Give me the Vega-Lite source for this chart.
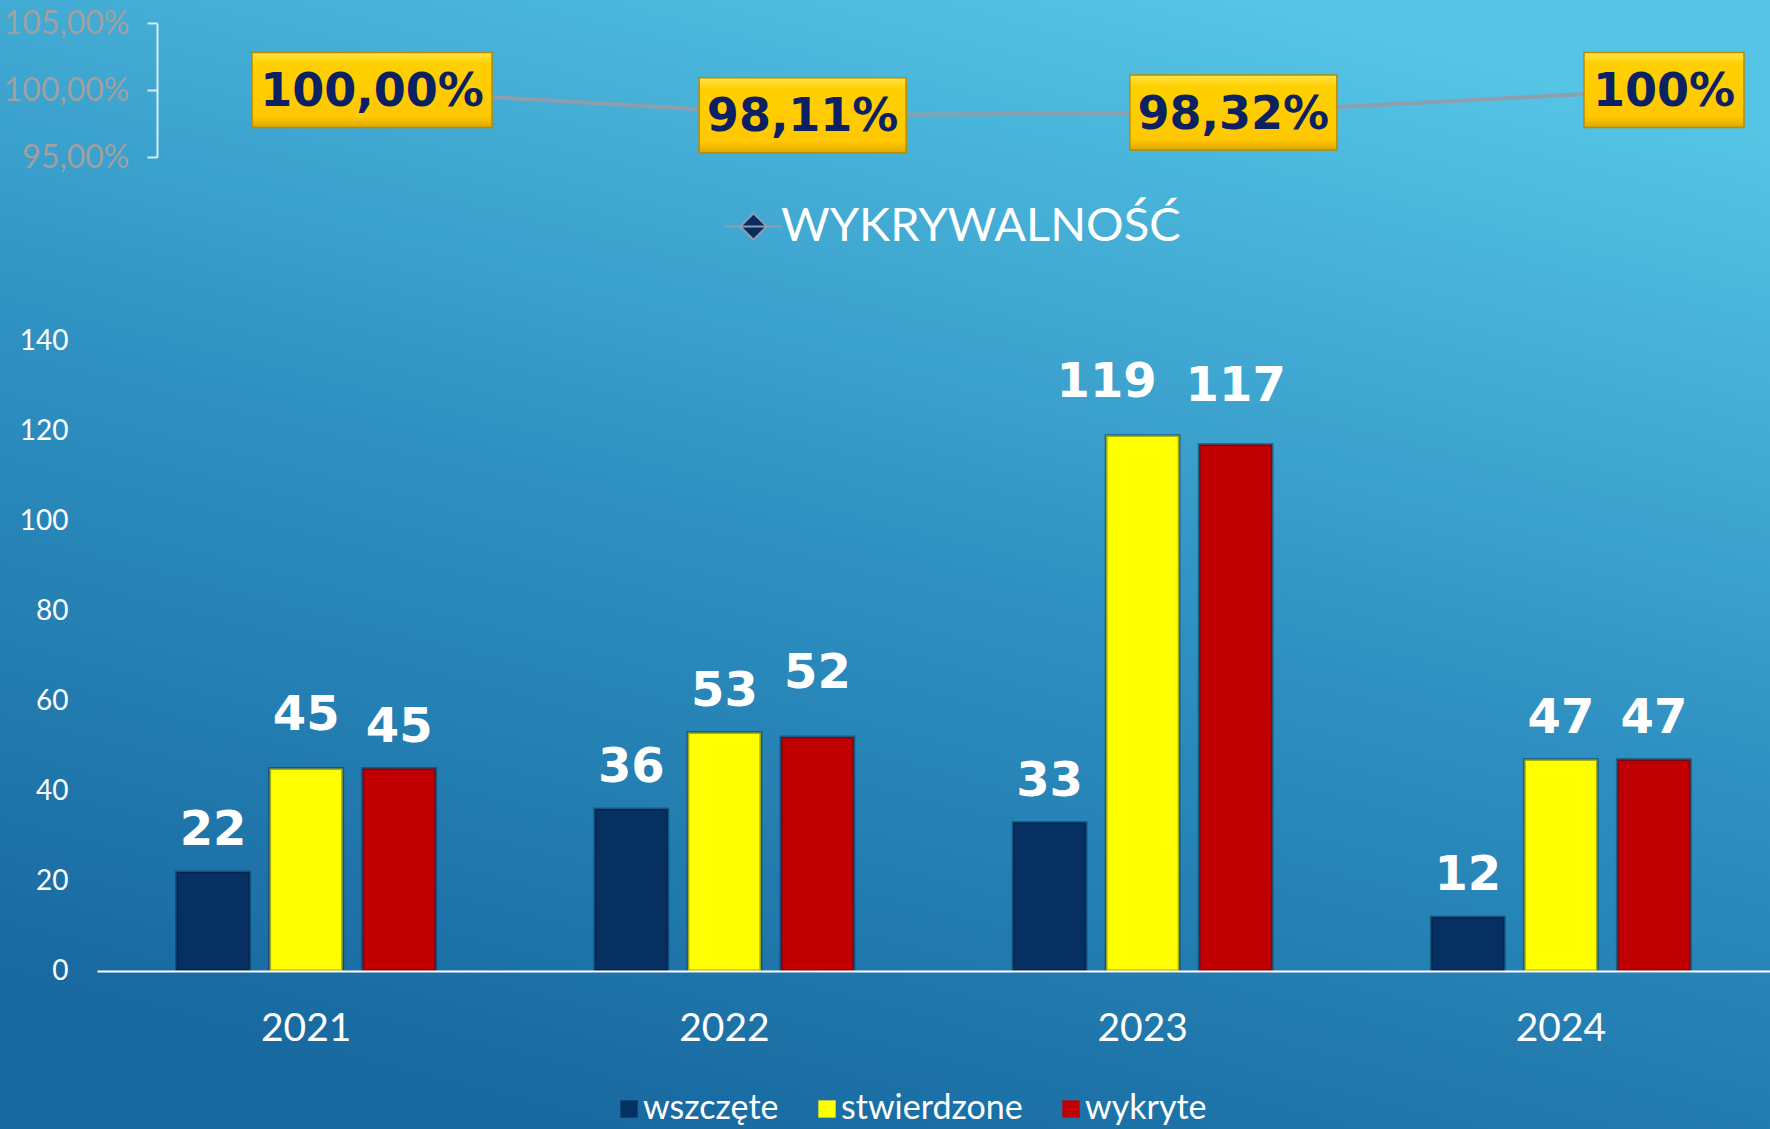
{
  "$schema": "https://vega.github.io/schema/vega-lite/v6.json",
  "width": 1770,
  "height": 1129,
  "autosize": {"type": "none"},
  "padding": 0,
  "background": "#2e90c1",
  "config": {"view": {"stroke": null}, "font": "Lato", "axis": {"zindex": 2}},
  "datasets": {
    "bars": [
      {"rok": "2021", "seria": "wszczęte", "wartosc": 22},
      {"rok": "2021", "seria": "stwierdzone", "wartosc": 45},
      {"rok": "2021", "seria": "wykryte", "wartosc": 45},
      {"rok": "2022", "seria": "wszczęte", "wartosc": 36},
      {"rok": "2022", "seria": "stwierdzone", "wartosc": 53},
      {"rok": "2022", "seria": "wykryte", "wartosc": 52},
      {"rok": "2023", "seria": "wszczęte", "wartosc": 33},
      {"rok": "2023", "seria": "stwierdzone", "wartosc": 119},
      {"rok": "2023", "seria": "wykryte", "wartosc": 117},
      {"rok": "2024", "seria": "wszczęte", "wartosc": 12},
      {"rok": "2024", "seria": "stwierdzone", "wartosc": 47},
      {"rok": "2024", "seria": "wykryte", "wartosc": 47}
    ],
    "wyk": [
      {"rok": "2021", "wartosc": 100, "etykieta": "100,00%"},
      {"rok": "2022", "wartosc": 98.11, "etykieta": "98,11%"},
      {"rok": "2023", "wartosc": 98.32, "etykieta": "98,32%"},
      {"rok": "2024", "wartosc": 100, "etykieta": "100%"}
    ]
  },
  "layer": [
    {
      "data": {"values": [{"t": 1}]},
      "mark": {
        "type": "rect",
        "stroke": null,
        "fill": {
          "gradient": "linear",
          "x1": 0.7, "y1": 0, "x2": 0.3, "y2": 1,
          "stops": [
            {"offset": 0, "color": "#55c4e5"},
            {"offset": 0.5, "color": "#2e90c1"},
            {"offset": 1, "color": "#17689f"}
          ]
        }
      },
      "encoding": {}
    },
    {
      "data": {"name": "wyk"},
      "encoding": {
        "x": {"field": "rok", "type": "ordinal", "scale": {"type": "point", "range": [372, 1664], "padding": 0}, "axis": null},
        "y": {
          "field": "wartosc", "type": "quantitative",
          "scale": {"domain": [95, 105], "range": [157, 23], "nice": false, "zero": false},
          "axis": {
            "orient": "left", "offset": -157, "values": [95, 100, 105],
            "labelExpr": "replace(format(datum.value, '.2f'), '.', ',') + '%'",
            "domainColor": "#d5edf7", "domainWidth": 2, "tickColor": "#d5edf7", "tickWidth": 2, "tickSize": 10,
            "labelColor": "#a0a0a0", "labelFontSize": 32, "labelFont": "Lato", "labelPadding": 18,
            "grid": false, "title": null, "zindex": 2
          }
        }
      },
      "layer": [
        {
          "mark": {"type": "line", "strokeWidth": 4},
          "encoding": {
            "stroke": {
              "datum": "WYKRYWALNOŚĆ",
              "scale": {"range": ["#8d9eac"]},
              "legend": {
                "orient": "none", "legendX": 730, "legendY": 203, "title": null,
                "symbolType": "M-1.5,0H1.5M0,-0.7L0.7,0L0,0.7L-0.7,0Z",
                "symbolSize": 1444,
                "labelFontSize": 47, "labelColor": "white", "labelFont": "Lato",
                "labelLimit": 800, "labelOffset": 4, "padding": 0,
                "encode": {"symbols": {"update": {"fill": {"value": "#0c2b5e"}, "strokeWidth": {"value": 2}, "stroke": {"value": "#8d9eac"}}}}
              }
            }
          }
        },
        {
          "transform": [{"filter": "datum.rok == '2021'"}],
          "mark": {"type": "rect", "width": 240, "height": 75, "stroke": "#b68c00", "strokeWidth": 1.5,
            "fill": {"gradient": "linear", "x1": 0, "y1": 0, "x2": 0, "y2": 1,
              "stops": [{"offset": 0, "color": "#ffe34a"}, {"offset": 0.15, "color": "#ffd000"}, {"offset": 0.85, "color": "#ffc800"}, {"offset": 1, "color": "#e0a800"}]}}
        },
        {
          "transform": [{"filter": "datum.rok == '2022' || datum.rok == '2023'"}],
          "mark": {"type": "rect", "width": 207, "height": 75, "stroke": "#b68c00", "strokeWidth": 1.5,
            "fill": {"gradient": "linear", "x1": 0, "y1": 0, "x2": 0, "y2": 1,
              "stops": [{"offset": 0, "color": "#ffe34a"}, {"offset": 0.15, "color": "#ffd000"}, {"offset": 0.85, "color": "#ffc800"}, {"offset": 1, "color": "#e0a800"}]}}
        },
        {
          "transform": [{"filter": "datum.rok == '2024'"}],
          "mark": {"type": "rect", "width": 160, "height": 75, "stroke": "#b68c00", "strokeWidth": 1.5,
            "fill": {"gradient": "linear", "x1": 0, "y1": 0, "x2": 0, "y2": 1,
              "stops": [{"offset": 0, "color": "#ffe34a"}, {"offset": 0.15, "color": "#ffd000"}, {"offset": 0.85, "color": "#ffc800"}, {"offset": 1, "color": "#e0a800"}]}}
        },
        {
          "mark": {"type": "text", "font": "DejaVu Sans", "fontWeight": "bold", "fontSize": 46, "fill": "#0b2161", "baseline": "middle", "dy": 2},
          "encoding": {"text": {"field": "etykieta", "type": "nominal"}}
        }
      ]
    },
    {
      "data": {"name": "bars"},
      "encoding": {
        "x": {
          "field": "rok", "type": "nominal",
          "scale": {"type": "band", "range": [97, 1770], "paddingInner": 0, "paddingOuter": 0},
          "axis": {
            "orient": "bottom", "offset": -158, "title": null, "labelAngle": 0, "ticks": false,
            "domainColor": "white", "domainWidth": 2, "labelColor": "white", "labelFont": "Lato",
            "labelFontSize": 39, "labelPadding": 38, "zindex": 2
          }
        },
        "xOffset": {
          "field": "seria", "type": "nominal",
          "scale": {"domain": ["wszczęte", "stwierdzone", "wykryte"], "paddingInner": 0.215, "paddingOuter": 0.855}
        },
        "y": {
          "field": "wartosc", "type": "quantitative",
          "scale": {"domain": [0, 140], "range": [971, 341], "nice": false},
          "axis": {
            "orient": "left", "offset": -97, "values": [0, 20, 40, 60, 80, 100, 120, 140],
            "domain": false, "ticks": false, "grid": false, "labelColor": "white", "labelFont": "Lato",
            "labelFontSize": 28, "labelPadding": 29, "title": null, "zindex": 2
          }
        }
      },
      "layer": [
        {
          "mark": {"type": "bar", "stroke": "#00132e", "strokeOpacity": 0.35, "strokeWidth": 3},
          "encoding": {
            "color": {
              "field": "seria", "type": "nominal",
              "scale": {"domain": ["wszczęte", "stwierdzone", "wykryte"], "range": ["#062f62", "#ffff00", "#c00000"]},
              "legend": {
                "orient": "none", "direction": "horizontal", "legendX": 612, "legendY": 1092, "title": null,
                "symbolType": "square", "symbolSize": 300, "symbolStrokeWidth": 0,
                "labelFontSize": 34, "labelColor": "white", "labelFont": "Lato", "labelLimit": 400,
                "columnPadding": 31, "labelOffset": -3, "padding": 0
              }
            }
          }
        },
        {
          "transform": [{"filter": "!((datum.rok == '2021' && datum.seria == 'stwierdzone') || (datum.rok == '2022' && datum.seria == 'wykryte') || (datum.rok == '2023' && datum.seria != 'wszczęte'))"}],
          "mark": {"type": "text", "font": "DejaVu Sans", "fontWeight": "bold", "fontSize": 48, "fill": "white", "baseline": "alphabetic", "dy": -27},
          "encoding": {"text": {"field": "wartosc", "type": "quantitative"}}
        },
        {
          "transform": [{"filter": "datum.rok == '2021' && datum.seria == 'stwierdzone'"}],
          "mark": {"type": "text", "font": "DejaVu Sans", "fontWeight": "bold", "fontSize": 48, "fill": "white", "baseline": "alphabetic", "dy": -39},
          "encoding": {"text": {"field": "wartosc", "type": "quantitative"}}
        },
        {
          "transform": [{"filter": "datum.rok == '2022' && datum.seria == 'wykryte'"}],
          "mark": {"type": "text", "font": "DejaVu Sans", "fontWeight": "bold", "fontSize": 48, "fill": "white", "baseline": "alphabetic", "dy": -49},
          "encoding": {"text": {"field": "wartosc", "type": "quantitative"}}
        },
        {
          "transform": [{"filter": "datum.rok == '2023' && datum.seria == 'stwierdzone'"}],
          "mark": {"type": "text", "font": "DejaVu Sans", "fontWeight": "bold", "fontSize": 48, "fill": "white", "baseline": "alphabetic", "dy": -39, "dx": -36},
          "encoding": {"text": {"field": "wartosc", "type": "quantitative"}}
        },
        {
          "transform": [{"filter": "datum.rok == '2023' && datum.seria == 'wykryte'"}],
          "mark": {"type": "text", "font": "DejaVu Sans", "fontWeight": "bold", "fontSize": 48, "fill": "white", "baseline": "alphabetic", "dy": -44},
          "encoding": {"text": {"field": "wartosc", "type": "quantitative"}}
        }
      ]
    }
  ],
  "resolve": {"scale": {"x": "independent", "y": "independent"}}
}
